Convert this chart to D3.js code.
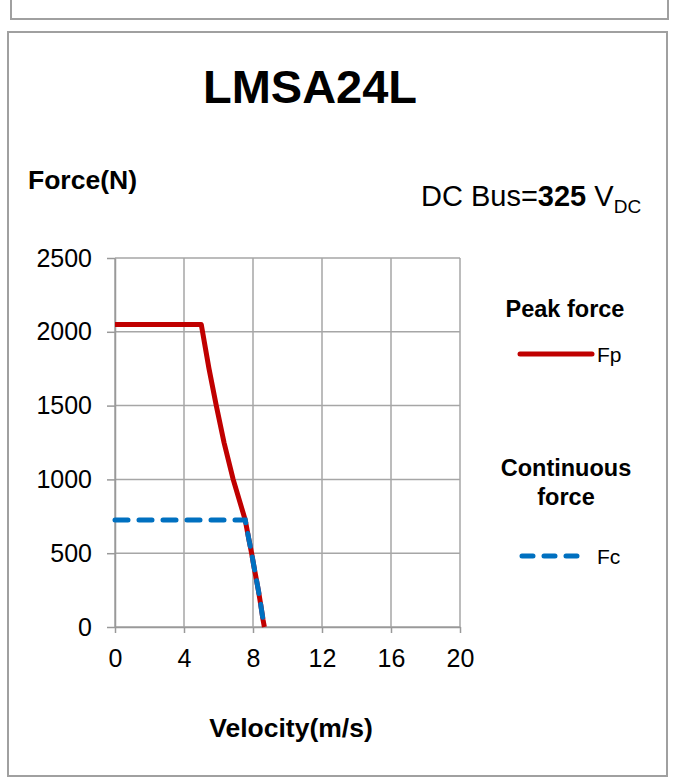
<!DOCTYPE html>
<html>
<head>
<meta charset="utf-8">
<script src="https://cdn.jsdelivr.net/npm/d3@7"></script>
<style>
  body { margin: 0; background: #fff; }
  svg { display: block; font-family: "Liberation Sans", Arial, sans-serif; }
</style>
</head>
<body>
<div id="vis"></div>
<script>
// Frame and plot area
const FRAME_WIDTH = 686;
const FRAME_HEIGHT = 784;
const MARGINS = {left: 115, top: 258};
const VIS_WIDTH = 345;
const VIS_HEIGHT = 369;

// Data
const VELOCITY_TICKS = [0, 4, 8, 12, 16, 20];
const FORCE_TICKS = [0, 500, 1000, 1500, 2000, 2500];

const FP_VELOCITY = [0, 5.0, 5.45, 5.87, 6.32, 6.85, 7.55, 7.75, 7.92, 8.07, 8.31, 8.45, 8.58, 8.66];
const FP_FORCE = [2050, 2050, 1750, 1500, 1250, 1000, 725, 600, 500, 400, 250, 150, 50, 0];

const FC_VELOCITY = [0, 7.55, 7.75, 7.92, 8.07, 8.31, 8.45, 8.58, 8.66];
const FC_FORCE = [725, 725, 600, 500, 400, 250, 150, 50, 0];

const FP_COLOR = "#c00000";
const FC_COLOR = "#0070c0";
const GRID_COLOR = "#a6a6a6";

const FRAME = d3.select("#vis")
                .append("svg")
                  .attr("width", FRAME_WIDTH)
                  .attr("height", FRAME_HEIGHT);

// Outer boxes (the top one is the tail of the panel above)
FRAME.append("rect")
     .attr("x", 11).attr("y", -10)
     .attr("width", 657).attr("height", 29)
     .attr("fill", "none").attr("stroke", "#a0a0a0").attr("stroke-width", 2);

FRAME.append("rect")
     .attr("x", 8).attr("y", 32)
     .attr("width", 659).attr("height", 744)
     .attr("fill", "none").attr("stroke", "#a0a0a0").attr("stroke-width", 2);

// Scales
const X_SCALE = d3.scaleLinear()
                  .domain([0, 20])
                  .range([0, VIS_WIDTH]);

const Y_SCALE = d3.scaleLinear()
                  .domain([0, 2500])
                  .range([VIS_HEIGHT, 0]);

const PLOT = FRAME.append("g")
                  .attr("transform", "translate(" + MARGINS.left + "," + MARGINS.top + ")");

// Gridlines
PLOT.selectAll(".hgrid")
    .data(FORCE_TICKS)
    .enter()
    .append("line")
      .attr("x1", 0).attr("x2", VIS_WIDTH)
      .attr("y1", (d) => Y_SCALE(d)).attr("y2", (d) => Y_SCALE(d))
      .attr("stroke", GRID_COLOR).attr("stroke-width", 1.5);

PLOT.selectAll(".vgrid")
    .data(VELOCITY_TICKS)
    .enter()
    .append("line")
      .attr("x1", (d) => X_SCALE(d)).attr("x2", (d) => X_SCALE(d))
      .attr("y1", 0).attr("y2", VIS_HEIGHT)
      .attr("stroke", GRID_COLOR).attr("stroke-width", 1.5);

// Axes
const X_AXIS = PLOT.append("g")
    .attr("transform", "translate(0," + VIS_HEIGHT + ")")
    .call(d3.axisBottom(X_SCALE).tickValues(VELOCITY_TICKS)
            .tickSize(6).tickSizeOuter(0).tickPadding(16));

const Y_AXIS = PLOT.append("g")
    .call(d3.axisLeft(Y_SCALE).tickValues(FORCE_TICKS).tickFormat(d3.format("d"))
            .tickSize(8).tickSizeOuter(0).tickPadding(15));

[X_AXIS, Y_AXIS].forEach((ax) => {
  ax.selectAll("path, line").attr("stroke", "#999").attr("stroke-width", 1.5);
  ax.selectAll("text")
    .attr("font-family", "'Liberation Sans', Arial, sans-serif")
    .attr("font-size", "25px")
    .attr("fill", "#000");
});

// Lines
const line = d3.line()
               .x((d) => X_SCALE(d[0]))
               .y((d) => Y_SCALE(d[1]));

PLOT.append("path")
    .datum(d3.zip(FP_VELOCITY, FP_FORCE))
    .attr("d", line)
    .attr("fill", "none")
    .attr("stroke", FP_COLOR)
    .attr("stroke-width", 5)
    .attr("stroke-linejoin", "round");

PLOT.append("path")
    .datum(d3.zip(FC_VELOCITY, FC_FORCE))
    .attr("d", line)
    .attr("fill", "none")
    .attr("stroke", FC_COLOR)
    .attr("stroke-width", 5)
    .attr("stroke-linecap", "round")
    .attr("stroke-dasharray", "13,11");

// Titles
FRAME.append("text")
     .attr("x", 310).attr("y", 103)
     .attr("text-anchor", "middle")
     .attr("font-size", "47px").attr("font-weight", "bold")
     .text("LMSA24L");

FRAME.append("text")
     .attr("x", 28).attr("y", 189)
     .attr("font-size", "26.5px").attr("font-weight", "bold")
     .text("Force(N)");

FRAME.append("text")
     .attr("x", 291).attr("y", 737)
     .attr("text-anchor", "middle")
     .attr("font-size", "26.5px").attr("font-weight", "bold")
     .text("Velocity(m/s)");

const BUS = FRAME.append("text")
     .attr("x", 421).attr("y", 206)
     .attr("font-size", "29px");
BUS.append("tspan").text("DC Bus=");
BUS.append("tspan").attr("font-weight", "bold").text("325");
BUS.append("tspan").text(" V");
BUS.append("tspan").attr("font-size", "19px").attr("dy", 7).text("DC");

// Legend
FRAME.append("text")
     .attr("x", 565).attr("y", 317)
     .attr("text-anchor", "middle")
     .attr("font-size", "23.5px").attr("font-weight", "bold")
     .text("Peak force");

FRAME.append("line")
     .attr("x1", 520).attr("x2", 592).attr("y1", 354).attr("y2", 354)
     .attr("stroke", FP_COLOR).attr("stroke-width", 5).attr("stroke-linecap", "round");

FRAME.append("text")
     .attr("x", 597).attr("y", 362)
     .attr("font-size", "21px")
     .text("Fp");

FRAME.append("text")
     .attr("x", 566).attr("y", 476)
     .attr("text-anchor", "middle")
     .attr("font-size", "23.5px").attr("font-weight", "bold")
     .text("Continuous");

FRAME.append("text")
     .attr("x", 566).attr("y", 505)
     .attr("text-anchor", "middle")
     .attr("font-size", "23.5px").attr("font-weight", "bold")
     .text("force");

FRAME.append("line")
     .attr("x1", 522).attr("x2", 580).attr("y1", 556).attr("y2", 556)
     .attr("stroke", FC_COLOR).attr("stroke-width", 5)
     .attr("stroke-linecap", "round").attr("stroke-dasharray", "11,11");

FRAME.append("text")
     .attr("x", 597).attr("y", 564)
     .attr("font-size", "21px")
     .text("Fc");
</script>
</body>
</html>
